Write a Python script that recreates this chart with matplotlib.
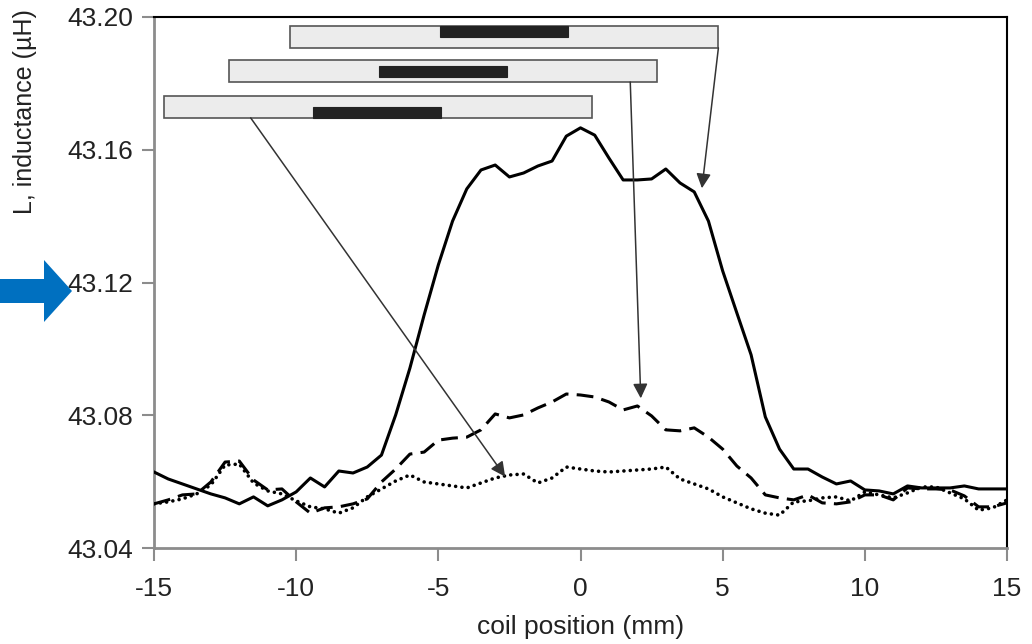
import numpy as np
import matplotlib
matplotlib.use("Agg")
import matplotlib.pyplot as plt
from matplotlib.patches import Rectangle, Polygon

plt.rcParams['axes.unicode_minus'] = False

# coil position (mm), one reading every 0.5 mm
x_mm = np.arange(-15, 15.01, 0.5)

# inductance (uH) for the three sample positions
L_centre = [43.0629, 43.0608, 43.0593, 43.0578, 43.0563, 43.0551, 43.0533, 43.0554, 43.0527, 43.0545,
            43.0569, 43.0611, 43.0584, 43.0632, 43.0626, 43.0644, 43.0680, 43.0801, 43.0942, 43.1102,
            43.1253, 43.1385, 43.1482, 43.1539, 43.1554, 43.1518, 43.1530, 43.1551, 43.1566, 43.1641,
            43.1666, 43.1644, 43.1575, 43.1509, 43.1509, 43.1512, 43.1542, 43.1500, 43.1473, 43.1385,
            43.1235, 43.1108, 43.0982, 43.0795, 43.0698, 43.0638, 43.0638, 43.0614, 43.0593, 43.0602,
            43.0575, 43.0572, 43.0563, 43.0587, 43.0581, 43.0581, 43.0581, 43.0587, 43.0578, 43.0578,
            43.0578]
L_middle = [43.0533, 43.0545, 43.0560, 43.0563, 43.0599, 43.0659, 43.0662, 43.0605, 43.0575, 43.0578,
            43.0539, 43.0505, 43.0521, 43.0524, 43.0533, 43.0548, 43.0599, 43.0638, 43.0683, 43.0689,
            43.0725, 43.0731, 43.0734, 43.0756, 43.0804, 43.0792, 43.0801, 43.0822, 43.0840, 43.0864,
            43.0861, 43.0855, 43.0840, 43.0816, 43.0828, 43.0798, 43.0756, 43.0753, 43.0762, 43.0734,
            43.0698, 43.0647, 43.0611, 43.0560, 43.0551, 43.0545, 43.0560, 43.0536, 43.0533, 43.0539,
            43.0560, 43.0560, 43.0545, 43.0581, 43.0578, 43.0578, 43.0575, 43.0557, 43.0524, 43.0524,
            43.0536]
L_edge = [43.0533, 43.0539, 43.0548, 43.0563, 43.0590, 43.0650, 43.0653, 43.0596, 43.0572, 43.0563,
          43.0542, 43.0524, 43.0518, 43.0505, 43.0521, 43.0554, 43.0578, 43.0602, 43.0620, 43.0599,
          43.0593, 43.0587, 43.0581, 43.0596, 43.0611, 43.0620, 43.0623, 43.0596, 43.0611, 43.0644,
          43.0638, 43.0632, 43.0629, 43.0632, 43.0635, 43.0638, 43.0644, 43.0608, 43.0593, 43.0578,
          43.0554, 43.0536, 43.0518, 43.0505, 43.0499, 43.0539, 43.0542, 43.0551, 43.0554, 43.0542,
          43.0569, 43.0560, 43.0551, 43.0566, 43.0584, 43.0584, 43.0566, 43.0548, 43.0514, 43.0521,
          43.0545]

# sketch of the sample inside the coil for each curve (data coords)
box_left = [-10.2, -12.35, -14.65]
box_width = 15.05
box_bottom = [43.1907, 43.1804, 43.1696]
box_height = 0.0066
core_left = [-4.95, -7.1, -9.4]
core_width = 4.5
core_bottom = [43.1940, 43.1820, 43.1696]
core_height = 0.0033
arrow_from = [(4.85, 43.1907), (1.75, 43.1804), (-11.6, 43.1696)]
arrow_to = [(4.27, 43.1484), (2.12, 43.0851), (-2.65, 43.0615)]

fig = plt.figure(figsize=(10.32, 6.44), dpi=100)
ax = fig.add_axes([154 / 1032, 1 - 548 / 644, 853 / 1032, 531 / 644])

ax.plot(x_mm, L_centre, color='black', lw=2.2, zorder=3)
ax.plot(x_mm, L_middle, color='black', lw=2.2, dashes=(5.5, 2.7), zorder=3)
ax.plot(x_mm, L_edge, color='black', lw=2.6, dashes=(0.01, 1.75), dash_capstyle='round', zorder=3)

for i in range(3):
    ax.add_patch(Rectangle((box_left[i], box_bottom[i]), box_width, box_height,
                           facecolor='#ececec', edgecolor='#555555', lw=1.2, zorder=4))
    ax.add_patch(Rectangle((core_left[i], core_bottom[i]), core_width, core_height,
                           facecolor='#222222', edgecolor='#222222', lw=0.8, zorder=5))
    ax.annotate('', xy=arrow_to[i], xytext=arrow_from[i],
                arrowprops=dict(arrowstyle='-|>', mutation_scale=22, lw=1.1,
                                color='#333333', shrinkA=0, shrinkB=0), zorder=6)

ax.set_xlim(-15, 15)
ax.set_ylim(43.04, 43.20)
ax.set_xticks(range(-15, 16, 5))
ax.set_yticks([43.04, 43.08, 43.12, 43.16, 43.20])
ax.set_yticklabels(['%.2f' % v for v in [43.04, 43.08, 43.12, 43.16, 43.20]])

for s in ['left', 'bottom']:
    ax.spines[s].set_color('#8c8c8c')
    ax.spines[s].set_linewidth(2)
for s in ['top', 'right']:
    ax.spines[s].set_color('black')
    ax.spines[s].set_linewidth(1.5)
ax.tick_params(direction='out', length=9, width=1.5, color='#8c8c8c', labelcolor='#222222')
for lab in ax.get_yticklabels():
    lab.set_family(['Liberation Sans', 'DejaVu Sans'])
    lab.set_fontsize(19)
for lab in ax.get_xticklabels():
    lab.set_family(['Liberation Sans', 'DejaVu Sans'])
    lab.set_fontsize(19)
ax.tick_params(axis='x', pad=12)
ax.tick_params(axis='y', pad=6)

ax.set_xlabel('coil position (mm)', fontsize=19, color='#222222',
              family=['Liberation Sans', 'DejaVu Sans'], labelpad=10)
ax.set_ylabel('L, inductance (\u00b5H)', fontsize=18, color='#222222',
              family=['Liberation Sans', 'DejaVu Sans'])
ax.yaxis.set_label_coords(-0.137, 0.822)

# blue pointer on the left margin
arrow_px = [(0, 279), (44, 279), (44, 260), (72, 291), (44, 322), (44, 303), (0, 303)]
fig.patches.append(Polygon([(px / 1032, 1 - py / 644) for px, py in arrow_px], closed=True,
                           transform=fig.transFigure, facecolor='#0070c0', edgecolor='none', zorder=10))

fig.savefig('out.png', dpi=100)
